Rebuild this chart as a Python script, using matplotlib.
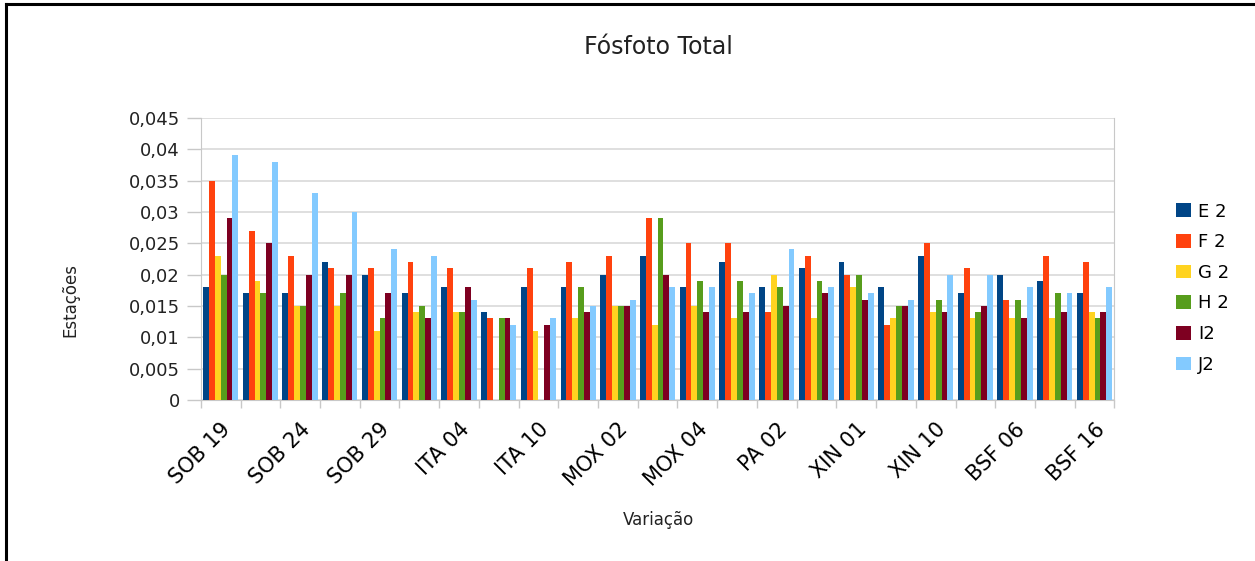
import numpy as np
import matplotlib
matplotlib.use('Agg')
import matplotlib.pyplot as plt
from matplotlib.lines import Line2D

# rótulos das estações (só aparece um a cada dois no eixo)
rotulos = ['SOB 19', '', 'SOB 24', '', 'SOB 29', '', 'ITA 04', '', 'ITA 10', '',
           'MOX 02', '', 'MOX 04', '', 'PA 02', '', 'XIN 01', '', 'XIN 10', '',
           'BSF 06', '', 'BSF 16']

series = ['E 2', 'F 2', 'G 2', 'H 2', 'I2', 'J2']
cores = ['#004586', '#ff420e', '#ffd320', '#579d1c', '#7e0021', '#83caff']

e2 = [0.018, 0.017, 0.017, 0.022, 0.020, 0.017, 0.018, 0.014, 0.018, 0.018, 0.020, 0.023,
      0.018, 0.022, 0.018, 0.021, 0.022, 0.018, 0.023, 0.017, 0.020, 0.019, 0.017]
f2 = [0.035, 0.027, 0.023, 0.021, 0.021, 0.022, 0.021, 0.013, 0.021, 0.022, 0.023, 0.029,
      0.025, 0.025, 0.014, 0.023, 0.020, 0.012, 0.025, 0.021, 0.016, 0.023, 0.022]
g2 = [0.023, 0.019, 0.015, 0.015, 0.011, 0.014, 0.014, 0.0, 0.011, 0.013, 0.015, 0.012,
      0.015, 0.013, 0.020, 0.013, 0.018, 0.013, 0.014, 0.013, 0.013, 0.013, 0.014]
h2 = [0.020, 0.017, 0.015, 0.017, 0.013, 0.015, 0.014, 0.013, 0.0, 0.018, 0.015, 0.029,
      0.019, 0.019, 0.018, 0.019, 0.020, 0.015, 0.016, 0.014, 0.016, 0.017, 0.013]
i2 = [0.029, 0.025, 0.020, 0.020, 0.017, 0.013, 0.018, 0.013, 0.012, 0.014, 0.015, 0.020,
      0.014, 0.014, 0.015, 0.017, 0.016, 0.015, 0.014, 0.015, 0.013, 0.014, 0.014]
j2 = [0.039, 0.038, 0.033, 0.030, 0.024, 0.023, 0.016, 0.012, 0.013, 0.015, 0.016, 0.018,
      0.018, 0.017, 0.024, 0.018, 0.017, 0.016, 0.020, 0.020, 0.018, 0.017, 0.018]

valores_y = [0, 0.005, 0.01, 0.015, 0.02, 0.025, 0.03, 0.035, 0.04, 0.045]
rotulos_y = ['0', '0,005', '0,01', '0,015', '0,02', '0,025', '0,03', '0,035', '0,04', '0,045']

plt.rcParams['font.family'] = ['DejaVu Sans']

fig = plt.figure(figsize=(12.55, 5.61), dpi=100)
ax = fig.add_axes([0.160, 0.287, 0.728, 0.503])

x = np.arange(len(rotulos))
largura = 0.148
dados = [e2, f2, g2, h2, i2, j2]
for k, (nome, vals) in enumerate(zip(series, dados)):
    ax.bar(x + (k - 2.5) * largura, vals, width=largura, color=cores[k],
           label=nome, linewidth=0, zorder=3)

ax.set_xlim(-0.5, len(rotulos) - 0.5)
ax.set_ylim(0, 0.045)
ax.set_yticks(valores_y)
ax.set_yticklabels(rotulos_y, fontsize=13, color='#222222')
ax.yaxis.grid(True, color='#d9d9d9', linewidth=1.2, zorder=0)

ax.set_xticks(x[::2])
ax.set_xticklabels(rotulos[::2], rotation=45, ha='right', va='top',
                   rotation_mode='anchor', fontsize=15)
ax.set_xticks(np.arange(len(rotulos) + 1) - 0.5, minor=True)
ax.tick_params(axis='x', which='major', length=0, pad=14)
ax.tick_params(axis='x', which='minor', length=6, color='#c8c8c8', width=1)
ax.tick_params(axis='y', length=10, color='#c8c8c8', width=1, pad=5)

for lado in ['left', 'bottom', 'right']:
    ax.spines[lado].set_color('#c8c8c8')
ax.spines['top'].set_visible(False)

fig.text(0.525, 0.916, 'Fósfoto Total', ha='center', va='center', fontsize=17,
         color='#222222')
fig.text(0.525, 0.073, 'Variação', ha='center', va='center', fontsize=12,
         color='#222222')
fig.text(0.056, 0.465, 'Estações', ha='center', va='center', rotation=90, fontsize=12,
         color='#222222')

fig.legend(loc='upper left', bbox_to_anchor=(0.930, 0.655), frameon=False,
           fontsize=13, handlelength=0.8, handleheight=0.8, handletextpad=0.4,
           labelspacing=0.7, borderpad=0)

# moldura preta (topo e esquerda)
fig.add_artist(Line2D([0.005, 1.0], [0.993, 0.993], color='black', linewidth=2.2,
                      transform=fig.transFigure))
fig.add_artist(Line2D([0.005, 0.005], [0.0, 0.993], color='black', linewidth=2.2,
                      transform=fig.transFigure))

plt.savefig('out.png', dpi=100)
